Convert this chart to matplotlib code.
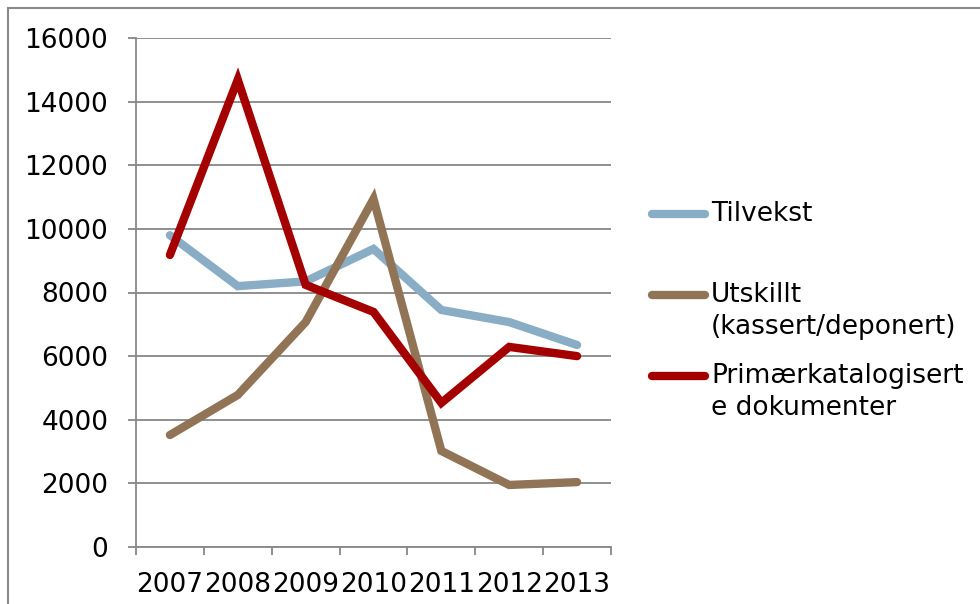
import matplotlib
matplotlib.use("Agg")
import matplotlib.pyplot as plt
from matplotlib.lines import Line2D
from matplotlib.patches import Rectangle
import numpy as np

# Data
years = ["2007", "2008", "2009", "2010", "2011", "2012", "2013"]
tilvekst = [9800, 8200, 8350, 9370, 7450, 7070, 6350]
utskillt = [3520, 4780, 7070, 10940, 3020, 1950, 2040]
primaer = [9180, 14690, 8240, 7390, 4530, 6290, 6000]

labels = ["Tilvekst", "Utskillt\n(kassert/deponert)", "Primærkatalogisert\ne dokumenter"]
colors = ["#8aadc6", "#917455", "#a50000"]

grid_color = "#878787"
W, H = 980, 604

fig = plt.figure(figsize=(W / 100, H / 100), dpi=100)
ax = fig.add_axes([136 / W, 1 - 547 / H, 475 / W, 509 / H])

x = np.arange(len(years))
for series, color, label in zip([tilvekst, utskillt, primaer], colors, labels):
    ax.plot(x, series, color=color, lw=6, solid_capstyle="round",
            solid_joinstyle="miter", label=label, zorder=3)

# Axes styling
ax.set_xlim(-0.5, len(years) - 0.5)
ax.set_ylim(0, 16000)
ax.set_yticks(np.arange(0, 16001, 2000))
ax.yaxis.grid(True, color=grid_color, lw=1.3)
ax.set_axisbelow(True)

ax.set_xticks(x)
ax.set_xticklabels(years)
ax.set_xticks(np.arange(-0.5, len(years), 1), minor=True)
ax.tick_params(axis="x", which="major", length=0, pad=18, labelsize=19)
ax.tick_params(axis="x", which="minor", length=6, width=1.3, color=grid_color)
ax.tick_params(axis="y", length=6, width=1.3, color=grid_color, pad=14, labelsize=19)

for side in ["top", "right"]:
    ax.spines[side].set_visible(False)
for side in ["left", "bottom"]:
    ax.spines[side].set_color(grid_color)
    ax.spines[side].set_linewidth(1.3)

# Legend on the right, handle level with the first text line
legend_rows = [214, 295, 376]
line_step = 32
for row, color, label in zip(legend_rows, colors, labels):
    y = 1 - row / H
    fig.add_artist(Line2D([652 / W, 705 / W], [y, y], transform=fig.transFigure,
                          color=color, lw=6, solid_capstyle="round"))
    for i, part in enumerate(label.split("\n")):
        fig.text(711 / W, 1 - (row + i * line_step) / H, part,
                 fontsize=19, va="center", ha="left")

# Outer chart border
fig.add_artist(Rectangle((8 / W, -0.1), 1.1, 1 - 8 / H + 0.1,
                         transform=fig.transFigure, fill=False,
                         edgecolor="#8a8a8a", lw=1.5))

fig.savefig("out.png", dpi=100)
